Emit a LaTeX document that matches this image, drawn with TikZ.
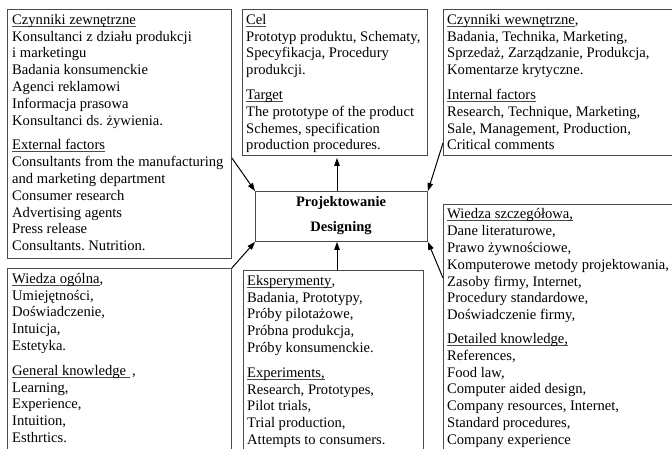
\documentclass[tikz,border=0pt]{standalone}
\usepackage{fontspec}
\setmainfont{Liberation Serif}
\usetikzlibrary{arrows.meta,calc}
\definecolor{boxgray}{HTML}{4A4A4A}
\newcommand\myul[1]{\setbox0\hbox{#1}\rlap{\textcolor{boxgray}{\rule[-2.2pt]{\wd0}{0.7pt}}}\box0}
\frenchspacing
\begin{document}
\begin{tikzpicture}[x=1pt,y=-1pt,
  frame/.style={draw=boxgray,line width=0.9pt,inner sep=0pt,anchor=north west},
  txt/.style={inner sep=0pt,anchor=north west,align=left,font=\fontsize{14.6pt}{16.8pt}\selectfont},
  ctrtxt/.style={inner sep=0pt,align=center,font=\fontsize{14.5pt}{25pt}\selectfont\bfseries},
  arr/.style={line width=1pt,black,-{Triangle[length=8pt,width=5.5pt]}}]
\useasboundingbox (0,0) rectangle (672,448);
\fill[white] (0,0) rectangle (672,448);
% frames
\node[frame,minimum width=224pt,minimum height=249pt] (ext) at (7,9) {};
\node[frame,minimum width=185pt,minimum height=146pt] (cel) at (242,9) {};
\node[frame,minimum width=247pt,minimum height=146pt] (int) at (443,9) {};
\node[frame,minimum width=224pt,minimum height=200pt] (gen) at (7,268) {};
\node[frame,minimum width=180pt,minimum height=200pt] (exp) at (243,270) {};
\node[frame,minimum width=247pt,minimum height=260pt] (det) at (443,204) {};
\node[frame,minimum width=172pt,minimum height=50pt] (ctr) at (255,191) {};
% texts
\node[txt] (extT) at ([xshift=5pt,yshift=-5pt]ext.north west) {%
\myul{Czynniki zewnętrzne}\\
Konsultanci z działu produkcji\\
i marketingu\\
Badania konsumenckie\\
Agenci reklamowi\\
Informacja prasowa\\
Konsultanci ds. żywienia.\\[8pt]
\myul{External factors}\\
Consultants from the manufacturing\\
and marketing department\\
Consumer research\\
Advertising agents\\
Press release\\
Consultants. Nutrition.};
\node[txt] (celT) at ([xshift=4pt,yshift=-5pt]cel.north west) {%
\myul{Cel}\\
Prototyp produktu, Schematy,\\
Specyfikacja, Procedury\\
produkcji.\\[8pt]
\myul{Target}\\
The prototype of the product\\
Schemes, specification\\
production procedures.};
\node[txt] (intT) at ([xshift=4pt,yshift=-5pt]int.north west) {%
\myul{Czynniki wewnętrzne},\\
Badania, Technika, Marketing,\\
Sprzedaż, Zarządzanie, Produkcja,\\
Komentarze krytyczne.\\[8pt]
\myul{Internal factors}\\
Research, Technique, Marketing,\\
Sale, Management, Production,\\
Critical comments};
\node[txt] (genT) at ([xshift=5pt,yshift=-5pt]gen.north west) {%
\myul{Wiedza ogólna},\\
Umiejętności,\\
Doświadczenie,\\
Intuicja,\\
Estetyka.\\[8pt]
\myul{General knowledge\ }\,,\\
Learning,\\
Experience,\\
Intuition,\\
Esthrtics.};
\node[txt] (expT) at ([xshift=4pt,yshift=-5pt]exp.north west) {%
\myul{Eksperymenty},\\
Badania, Prototypy,\\
Próby pilotażowe,\\
Próbna produkcja,\\
Próby konsumenckie.\\[8pt]
\myul{Experiments,}\\
Research, Prototypes,\\
Pilot trials,\\
Trial production,\\
Attempts to consumers.};
\node[txt] (detT) at ([xshift=4pt,yshift=-4.5pt]det.north west) {%
\myul{Wiedza szczegółowa,}\\
Dane literaturowe,\\
Prawo żywnościowe,\\
Komputerowe metody projektowania,\\
Zasoby firmy, Internet,\\
Procedury standardowe,\\
Doświadczenie firmy,\\[7pt]
\myul{Detailed knowledge,}\\
References,\\
Food law,\\
Computer aided design,\\
Company resources, Internet,\\
Standard procedures,\\
Company experience};
\node[ctrtxt] (ctrT) at (341,216) {Projektowanie\\Designing};
% arrows
\coordinate (ax) at (337,0);
\draw[arr] ([yshift=-149pt]ext.north east) -- (ctr.north west);
\draw[arr] ([yshift=-134pt]int.north west) -- (ctr.north east);
\draw[arr] (gen.north east) -- (ctr.south west);
\draw[arr] ([yshift=-74pt]det.north west) -- (ctr.south east);
\draw[arr] (exp.north -| ax) -- (ctr.south -| ax);
\draw[arr] (ctr.north -| ax) -- ([yshift=-2pt]cel.south -| ax);
\end{tikzpicture}
\end{document}
